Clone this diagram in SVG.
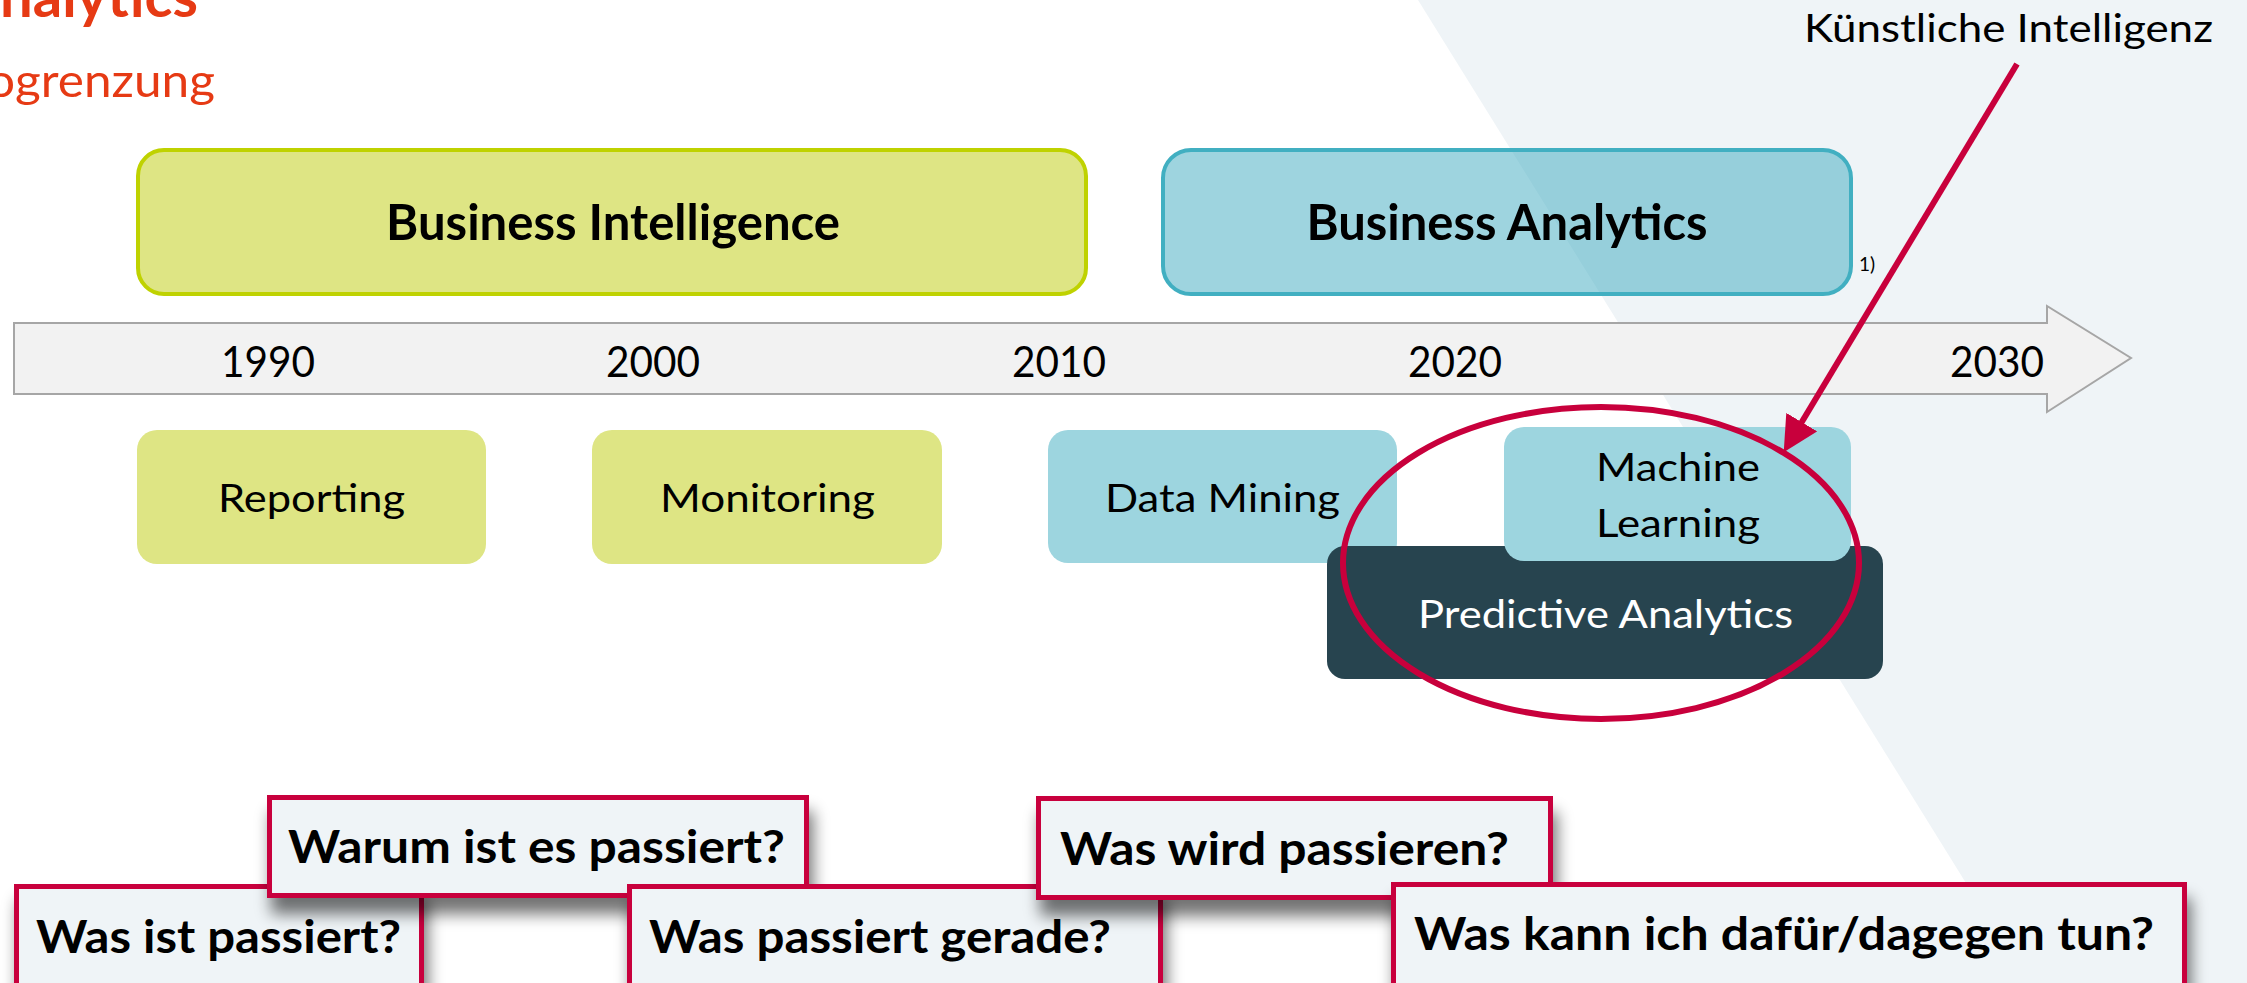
<svg xmlns="http://www.w3.org/2000/svg" width="2247" height="983" viewBox="0 0 2247 983">
<style>
  text { font-family: Lato, "Open Sans", "Liberation Sans", sans-serif; fill: #000; }
  .b { font-weight: 700; }
  .yr { font-size: 42px; text-anchor: middle; }
  .lbl { font-size: 39px; text-anchor: middle; }
  .big { font-size: 50px; font-weight: 700; text-anchor: middle; }
  .q { font-size: 45px; font-weight: 700; }
  .green { fill: #DEE584; }
  .blue { fill: #9DD5DF; }
  .qbox { fill: #EFF4F7; stroke: #C8003C; stroke-width: 5; }
</style>
<defs>
  <filter id="sh" x="-10%" y="-30%" width="125%" height="180%">
    <feGaussianBlur in="SourceAlpha" stdDeviation="8"/>
    <feOffset dx="4" dy="16" result="o"/>
    <feComponentTransfer><feFuncA type="linear" slope="0.55"/></feComponentTransfer>
    <feMerge><feMergeNode/><feMergeNode in="SourceGraphic"/></feMerge>
  </filter>
  <marker id="ah" viewBox="0 0 36 36" refX="15" refY="18" markerWidth="36" markerHeight="36" markerUnits="userSpaceOnUse" orient="auto">
    <path d="M0,0 L35,18 L0,36 z" fill="#C8003C"/>
  </marker>
</defs>

<rect x="0" y="0" width="2247" height="983" fill="#FFFFFF"/>
<polygon points="1418,0 2247,0 2247,983 2028,983" fill="#EFF4F7"/>

<g id="title">
  <text x="0" y="17" class="b" font-size="57" style="fill:#E63A14" textLength="198" lengthAdjust="spacingAndGlyphs">nalytics</text>
  <text x="-13" y="97" font-size="47" style="fill:#E63A14" textLength="228" lengthAdjust="spacingAndGlyphs">ogrenzung</text>
</g>

<g id="timeline">
  <polygon points="14,323 2047,323 2047,306 2131,358 2047,412 2047,394 14,394" fill="#F2F2F2" stroke="#A6A6A6" stroke-width="2"/>
  <text class="yr" x="268" y="377" textLength="94" lengthAdjust="spacingAndGlyphs">1990</text>
  <text class="yr" x="653" y="377" textLength="94" lengthAdjust="spacingAndGlyphs">2000</text>
  <text class="yr" x="1059" y="377" textLength="94" lengthAdjust="spacingAndGlyphs">2010</text>
  <text class="yr" x="1455" y="377" textLength="94" lengthAdjust="spacingAndGlyphs">2020</text>
  <text class="yr" x="1997" y="377" textLength="94" lengthAdjust="spacingAndGlyphs">2030</text>
</g>

<g id="business-intelligence">
  <rect x="138" y="150" width="948" height="144" rx="26" fill="#DEE584" stroke="#BFD200" stroke-width="4"/>
  <text class="big" x="613" y="240" textLength="454" lengthAdjust="spacingAndGlyphs">Business Intelligence</text>
</g>

<g id="business-analytics">
  <rect x="1163" y="150" width="688" height="144" rx="28" fill="#3DAABF" fill-opacity="0.5" stroke="#41AFC1" stroke-width="4"/>
  <text class="big" x="1507" y="240" textLength="401" lengthAdjust="spacingAndGlyphs">Business Analytics</text>
  <text x="1859" y="271" font-size="19">1)</text>
</g>

<g id="reporting">
  <rect class="green" x="137" y="430" width="349" height="134" rx="20"/>
  <text class="lbl" x="311.5" y="512" textLength="187" lengthAdjust="spacingAndGlyphs">Reporting</text>
</g>

<g id="monitoring">
  <rect class="green" x="592" y="430" width="350" height="134" rx="20"/>
  <text class="lbl" x="767.5" y="512" textLength="215" lengthAdjust="spacingAndGlyphs">Monitoring</text>
</g>

<g id="data-mining">
  <rect class="blue" x="1048" y="430" width="349" height="133" rx="20"/>
  <text class="lbl" x="1222.5" y="512" textLength="235" lengthAdjust="spacingAndGlyphs">Data Mining</text>
</g>

<g id="predictive-analytics">
  <rect x="1327" y="546" width="556" height="133" rx="18" fill="#27444F"/>
  <text class="lbl" x="1605.5" y="628" style="fill:#FFFFFF" textLength="375" lengthAdjust="spacingAndGlyphs">Predictive Analytics</text>
</g>

<g id="machine-learning">
  <rect class="blue" x="1504" y="427" width="347" height="134" rx="20"/>
  <text class="lbl" x="1678" y="481" textLength="164" lengthAdjust="spacingAndGlyphs">Machine</text>
  <text class="lbl" x="1678" y="537" textLength="164" lengthAdjust="spacingAndGlyphs">Learning</text>
</g>

<g id="highlight">
  <ellipse cx="1601" cy="563" rx="258" ry="156" fill="none" stroke="#C8003C" stroke-width="6"/>
</g>

<g id="kuenstliche-intelligenz">
  <text x="1804" y="42" font-size="38" textLength="409" lengthAdjust="spacingAndGlyphs">Künstliche Intelligenz</text>
</g>

<g id="connectors">
  <line x1="2017" y1="64" x2="1794" y2="435" stroke="#C8003C" stroke-width="6" marker-end="url(#ah)"/>
</g>

<g id="q-was-ist-passiert">
  <rect class="qbox" x="16.5" y="886.5" width="405" height="120" filter="url(#sh)"/>
  <text class="q" x="36" y="953" textLength="365" lengthAdjust="spacingAndGlyphs">Was ist passiert?</text>
</g>

<g id="q-warum">
  <rect class="qbox" x="269.5" y="797.5" width="537" height="98" filter="url(#sh)"/>
  <text class="q" x="288" y="863" textLength="497" lengthAdjust="spacingAndGlyphs">Warum ist es passiert?</text>
</g>

<g id="q-was-passiert-gerade">
  <rect class="qbox" x="629.5" y="886.5" width="531" height="120" filter="url(#sh)"/>
  <text class="q" x="649" y="953" textLength="462" lengthAdjust="spacingAndGlyphs">Was passiert gerade?</text>
</g>

<g id="q-was-wird-passieren">
  <rect class="qbox" x="1038.5" y="798.5" width="512" height="99" filter="url(#sh)"/>
  <text class="q" x="1060" y="865" textLength="449" lengthAdjust="spacingAndGlyphs">Was wird passieren?</text>
</g>

<g id="q-was-kann-ich-tun">
  <rect class="qbox" x="1393.5" y="884.5" width="791" height="120" filter="url(#sh)"/>
  <text class="q" x="1414" y="950" textLength="740" lengthAdjust="spacingAndGlyphs">Was kann ich dafür/dagegen tun?</text>
</g>
</svg>
